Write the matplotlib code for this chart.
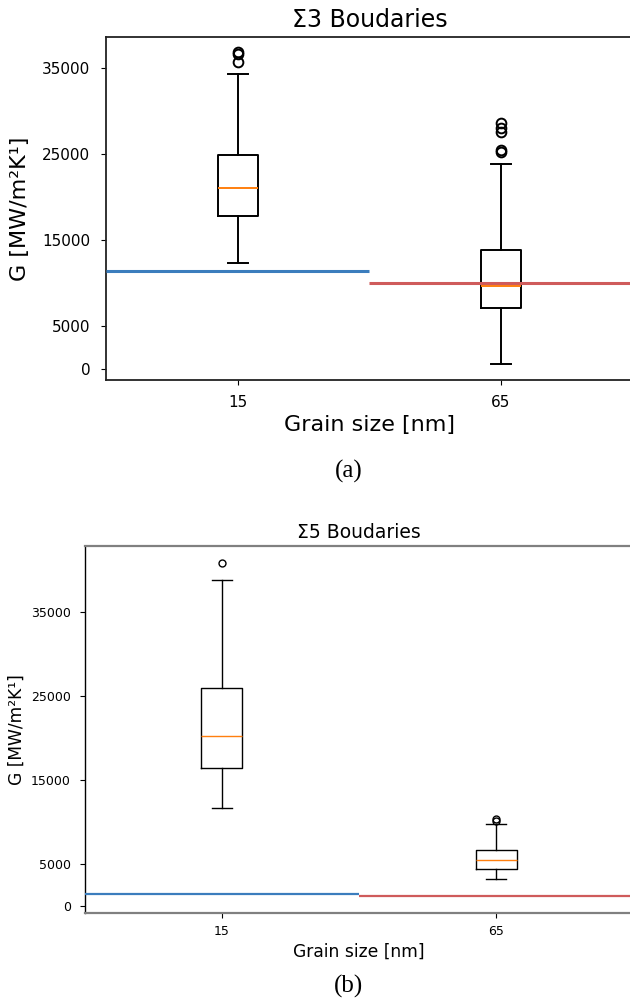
import matplotlib
matplotlib.use("Agg")
import matplotlib.pyplot as plt

# ---------------- data ----------------
grain_sizes = ["15", "65"]

# Sigma 3 boundaries
s3_q1 = [17840, 7120]
s3_med = [21020, 9670]
s3_q3 = [24890, 13890]
s3_whislo = [12310, 620]
s3_whishi = [34330, 23810]
s3_fliers = [[36910, 36680, 35690], [28570, 27990, 27530, 25470, 25300]]
s3_ref = [11380, 10060]   # blue (15 nm), red (65 nm)

# Sigma 5 boundaries
s5_q1 = [16450, 4410]
s5_med = [20260, 5480]
s5_q3 = [25950, 6670]
s5_whislo = [11640, 3220]
s5_whishi = [38820, 9740]
s5_fliers = [[40920], [10370, 10130]]
s5_ref = [1470, 1230]

yticks = [0, 5000, 15000, 25000, 35000]
ref_colors = ["#3b7dbd", "#cf5b5b"]

W, H = 630, 1001
fig = plt.figure(figsize=(W / 100, H / 100), dpi=100)


def make_stats(q1, med, q3, lo, hi, fl):
    return [dict(q1=q1[i], med=med[i], q3=q3[i], whislo=lo[i], whishi=hi[i],
                 fliers=fl[i], mean=med[i]) for i in range(len(q1))]


def panel(rect, stats, ref, title, fs_title, fs_label, fs_tick, lw_box,
          ms, lw_ref, ylim, xpad, ypad, ylab_x, title_pad):
    ax = fig.add_axes(rect)
    ax.bxp(stats, positions=[1, 2], widths=0.15, showfliers=True,
           boxprops=dict(color="black", linewidth=lw_box),
           whiskerprops=dict(color="black", linewidth=lw_box),
           capprops=dict(color="black", linewidth=lw_box),
           medianprops=dict(color="#ff7f0e", linewidth=lw_box),
           flierprops=dict(marker="o", markerfacecolor="none",
                           markeredgecolor="black", markersize=ms,
                           markeredgewidth=lw_box))
    ax.hlines(ref[0], 0.5, 1.5, color=ref_colors[0], linewidth=lw_ref, zorder=3)
    ax.hlines(ref[1], 1.5, 2.5, color=ref_colors[1], linewidth=lw_ref, zorder=3)
    ax.set_xlim(0.5, 2.5)
    ax.set_ylim(*ylim)
    ax.set_yticks(yticks)
    ax.set_yticklabels([str(v) for v in yticks])
    ax.set_xticks([1, 2])
    ax.set_xticklabels(grain_sizes)
    ax.tick_params(axis="x", labelsize=fs_tick, pad=xpad, length=3.5)
    ax.tick_params(axis="y", labelsize=fs_tick, pad=ypad, length=3.5)
    ax.set_title(title, fontsize=fs_title, pad=title_pad)
    ax.set_xlabel("Grain size [nm]", fontsize=fs_label)
    ax.set_ylabel("G [MW/m²K¹]", fontsize=fs_label)
    ax.yaxis.set_label_coords(ylab_x, 0.5)
    return ax


# Panel (a)
ax1 = panel([106.2 / W, 1 - 380 / H, 526.4 / W, 343 / H],
            make_stats(s3_q1, s3_med, s3_q3, s3_whislo, s3_whishi, s3_fliers),
            s3_ref, "Σ3 Boudaries", 17, 16, 11, 1.4, 7, 2.2,
            (-1240, 38600), 7, 8, -0.145, 7)
for s in ax1.spines.values():
    s.set_color("#222222")
    s.set_linewidth(1.3)

# Panel (b)
ax2 = panel([84.6 / W, 1 - 912.7 / H, 548.8 / W, 366.7 / H],
            make_stats(s5_q1, s5_med, s5_q3, s5_whislo, s5_whishi, s5_fliers),
            s5_ref, "Σ5 Boudaries", 13.5, 12.3, 9, 1.0, 5, 1.6,
            (-800, 42910), 5, 6.5, -0.107, 5.5)
for k in ["top", "bottom", "right"]:
    ax2.spines[k].set_color("#808080")
    ax2.spines[k].set_linewidth(1.6)
ax2.spines["left"].set_color("black")
ax2.spines["left"].set_linewidth(1.0)

fig.text(348.5 / W, 1 - 471 / H, "(a)", ha="center", va="center",
         fontsize=18, family="Liberation Serif")
fig.text(348.5 / W, 1 - 986.5 / H, "(b)", ha="center", va="center",
         fontsize=18, family="Liberation Serif")

fig.savefig("out.png", dpi=100)
